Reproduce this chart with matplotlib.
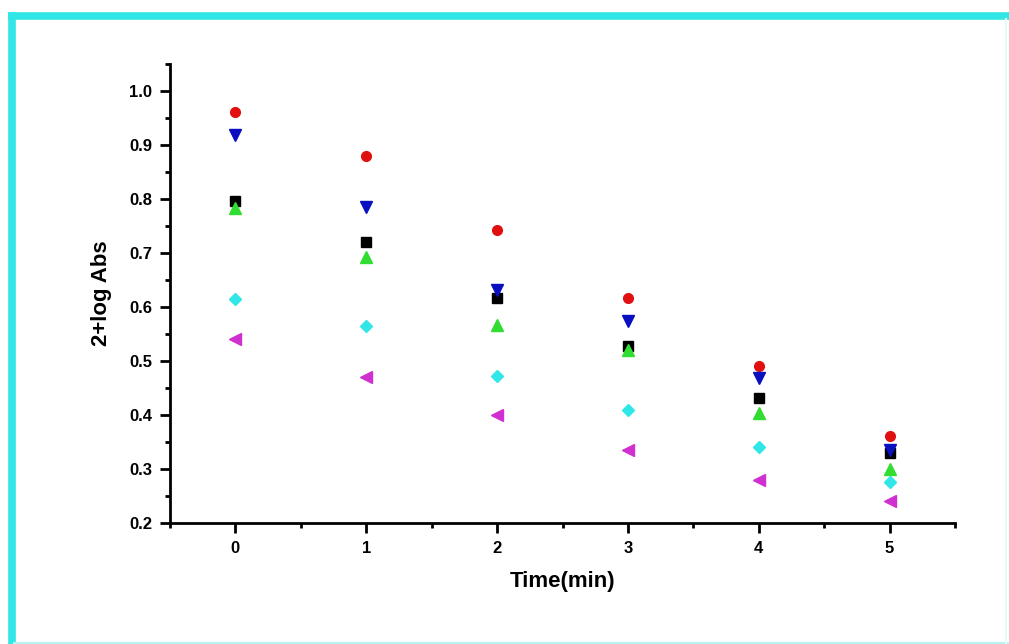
import matplotlib.pyplot as plt
from matplotlib.lines import Line2D
from matplotlib.ticker import MultipleLocator

plt.rcParams['font.family'] = ['Liberation Sans', 'DejaVu Sans']

time = [0, 1, 2, 3, 4, 5]
red = [0.961, 0.879, 0.742, 0.617, 0.491, 0.361]
blue = [0.918, 0.786, 0.632, 0.575, 0.469, 0.335]
black = [0.796, 0.721, 0.616, 0.528, 0.432, 0.330]
green = [0.784, 0.692, 0.567, 0.521, 0.404, 0.300]
cyan = [0.614, 0.565, 0.473, 0.410, 0.341, 0.276]
magenta = [0.540, 0.471, 0.400, 0.335, 0.280, 0.241]

fig = plt.figure(figsize=(10.09, 6.44), dpi=100)
ax = fig.add_axes([0.1685, 0.1879, 0.778, 0.7127])

ax.plot(time, black, 's', color='black', ms=7)
ax.plot(time, red, 'o', color='#e01010', ms=7)
ax.plot(time, green, '^', color='#30dd30', ms=8)
ax.plot(time, blue, 'v', color='#0a10c0', ms=8)
ax.plot(time, cyan, 'D', color='#30e6e6', ms=6)
ax.plot(time, magenta, '<', color='#d030d0', ms=8)

ax.set_xlim(-0.5, 5.5)
ax.set_ylim(0.2, 1.05)
ax.xaxis.set_major_locator(MultipleLocator(1))
ax.xaxis.set_minor_locator(MultipleLocator(0.5))
ax.yaxis.set_minor_locator(MultipleLocator(0.05))
ax.set_yticks([0.2, 0.3, 0.4, 0.5, 0.6, 0.7, 0.8, 0.9, 1.0])
ax.set_yticklabels(['0.2', '0.3', '0.4', '0.5', '0.6', '0.7', '0.8', '0.9', '1.0'])

for s in ['top', 'right']:
    ax.spines[s].set_visible(False)
for s in ['left', 'bottom']:
    ax.spines[s].set_linewidth(2)
ax.tick_params(which='major', direction='out', length=7, width=2, labelsize=12, pad=6)
ax.tick_params(which='minor', direction='out', length=3.5, width=2)
for lab in ax.get_xticklabels() + ax.get_yticklabels():
    lab.set_fontweight('bold')

ax.set_xlabel('Time(min)', fontsize=16, fontweight='bold', labelpad=11)
ax.set_ylabel('2+log Abs', fontsize=16, fontweight='bold', labelpad=12)

# cyan frame: thick top and left, faint bottom and right
W, H = 1009, 644
fig.lines.append(Line2D([11.5 / W, 11.5 / W], [0, 1 - 15.5 / H], transform=fig.transFigure,
                        color='#33e6e6', lw=5.5, solid_capstyle='projecting'))
fig.lines.append(Line2D([11.5 / W, 1], [1 - 15.5 / H, 1 - 15.5 / H], transform=fig.transFigure,
                        color='#33e6e6', lw=5.5))
fig.lines.append(Line2D([14 / W, 1], [1 / H, 1 / H], transform=fig.transFigure,
                        color='#b8f4f4', lw=1.5))
fig.lines.append(Line2D([1006 / W, 1006 / W], [1 / H, 1 - 19 / H], transform=fig.transFigure,
                        color='#e6fafa', lw=1.5))

fig.savefig('out.png', dpi=100)
